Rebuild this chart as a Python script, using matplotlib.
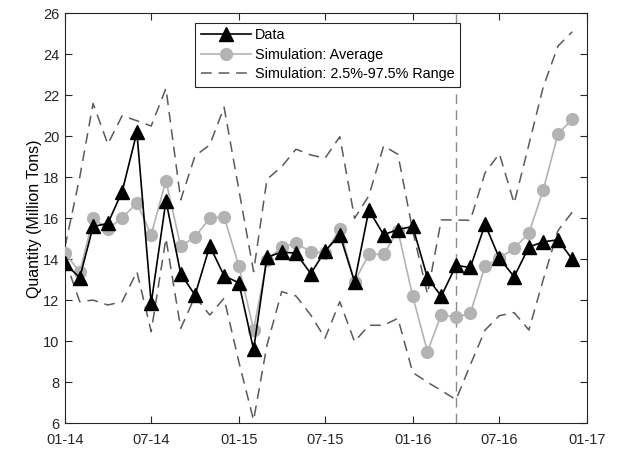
import matplotlib
matplotlib.use("Agg")
import matplotlib.pyplot as plt
import matplotlib.dates as mdates
import numpy as np
import pandas as pd

plt.rcParams['font.family'] = ['Liberation Sans', 'DejaVu Sans']

# monthly observations, Jan 2014 - Dec 2016
months = pd.date_range("2014-01-01", "2016-12-01", freq="MS")

data = [13.8, 13.1, 15.6, 15.75, 17.3, 20.2, 11.85, 16.85, 13.3, 12.25, 14.65, 13.2,
        12.85, 9.6, 14.1, 14.35, 14.3, 13.3, 14.4, 15.2, 12.9, 16.4, 15.2, 15.45,
        15.6, 13.1, 12.2, 13.7, 13.6, 15.7, 14.05, 13.15, 14.6, 14.85, 14.95, 14.0]

sim_avg = [14.3, 13.37, 16.0, 15.47, 16.02, 16.75, 15.2, 17.84, 14.63, 15.1, 16.0, 16.08,
           13.67, 10.57, 13.95, 14.6, 14.78, 14.37, 14.3, 15.47, 12.91, 14.24, 14.24, 15.4,
           12.2, 9.5, 11.3, 11.17, 11.37, 13.67, 14.05, 14.54, 15.27, 17.38, 20.1, 20.84]

sim_hi = [14.6, 18.0, 21.6, 19.62, 21.0, 20.76, 20.5, 22.34, 16.9, 19.04, 19.58, 21.42,
          17.4, 13.4, 17.9, 18.52, 19.37, 19.09, 18.93, 19.98, 16.0, 17.1, 19.53, 19.12,
          15.4, 12.3, 15.92, 15.92, 15.9, 18.22, 19.15, 16.73, 19.6, 22.4, 24.4, 25.1]

sim_lo = [14.0, 11.93, 12.01, 11.77, 11.93, 13.4, 10.47, 15.02, 10.63, 12.18, 11.28, 12.1,
          9.0, 6.15, 9.8, 12.42, 12.21, 11.28, 10.15, 11.93, 9.98, 10.78, 10.78, 11.12,
          8.48, 8.0, 7.6, 7.15, 8.85, 10.55, 11.25, 11.4, 10.55, 13.0, 15.4, 16.3]

forecast_start = pd.Timestamp("2016-04-01")

fig = plt.figure(figsize=(6.17, 4.55), dpi=100)
ax = fig.add_axes([0.1053, 0.0697, 0.8461, 0.9011])

band_color = '#5a5a5a'
ax.plot(months, data, color='black', lw=1.2, marker='^', markersize=9.5,
        markerfacecolor='black', markeredgecolor='black', label='Data', zorder=4)
ax.plot(months, sim_avg, color='#b3b3b3', lw=1.2, marker='o', markersize=8.5,
        markerfacecolor='#b3b3b3', markeredgecolor='#b3b3b3',
        label='Simulation: Average', zorder=3)
ax.plot(months, sim_hi, color=band_color, lw=1.1, dashes=(7, 4.5),
        label='Simulation: 2.5%-97.5% Range', zorder=2)
ax.plot(months, sim_lo, color=band_color, lw=1.1, dashes=(7, 4.5), zorder=2)
ax.axvline(forecast_start, color='#8c8c8c', lw=1.0, dashes=(7, 4.5), zorder=1)

ax.set_xlim(pd.Timestamp("2014-01-01"), pd.Timestamp("2017-01-01"))
ax.set_ylim(6, 26)
ax.set_yticks(np.arange(6, 27, 2))
ax.xaxis.set_major_locator(mdates.MonthLocator(bymonth=[1, 7]))
ax.xaxis.set_major_formatter(mdates.DateFormatter('%m-%y'))

ax.tick_params(direction='in', length=5, width=0.8, top=True, right=True,
               labelsize=10.5, colors='#262626')
ax.tick_params(axis='x', pad=7)
ax.tick_params(axis='y', pad=4)
for s in ax.spines.values():
    s.set_color('#262626')
    s.set_linewidth(0.8)

ax.set_ylabel('Quantity (Million Tons)', fontsize=11.5, labelpad=1)

leg = ax.legend(loc='upper left', bbox_to_anchor=(0.249, 0.977), borderaxespad=0,
                fontsize=10.4, handlelength=3.5, handletextpad=0.25, labelspacing=0.38,
                fancybox=False, edgecolor='#262626', framealpha=1, borderpad=0.4)
leg.get_frame().set_linewidth(0.8)

fig.savefig('out.png', dpi=100)
